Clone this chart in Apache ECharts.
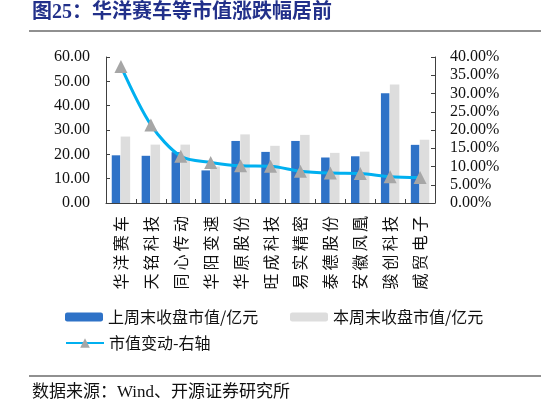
<!DOCTYPE html>
<html>
<head>
<meta charset="utf-8">
<script src="https://cdn.jsdelivr.net/npm/echarts@6/dist/echarts.min.js"></script>
<style>
  html, body { margin: 0; padding: 0; background: #fff; }
  #chart { width: 546px; height: 405px; }
</style>
</head>
<body>
<div id="chart"></div>
<script>
// 数据
const categories = ['华洋赛车', '天铭科技', '同心传动', '华阳变速', '华原股份', '旺成科技', '易实精密', '泰德股份', '安徽凤凰', '骏创科技', '威贸电子']
const lastWeekCap = [19.6, 19.4, 20.9, 13.4, 25.5, 21.0, 25.5, 18.7, 19.2, 45.1, 23.9]
const thisWeekCap = [27.3, 24.0, 24.0, 15.0, 28.2, 23.5, 28.0, 20.6, 21.1, 48.7, 26.0]
const capChangePct = [37.4, 21.4, 12.8, 11.1, 10.2, 10.1, 8.7, 8.2, 8.1, 7.2, 7.0]

const seriesNames = ['上周末收盘市值/亿元', '本周末收盘市值/亿元', '市值变动-右轴']

const serif = '"Liberation Serif", "Noto Sans CJK SC"'
const cjk = '"Noto Sans CJK SC", "Liberation Serif"'
const axisColor = '#404040'

const chart = echarts.init(document.getElementById('chart'), null, { renderer: 'canvas' })

const legendText = { fontSize: 16, fontFamily: cjk, color: '#111', lineHeight: 18 }

chart.setOption({
  animation: false,
  backgroundColor: '#fff',
  grid: { left: 106, right: 111, top: 57, bottom: 202 },
  legend: [
    { data: [seriesNames[0]], left: 65, top: 308, padding: 0, itemWidth: 38, itemHeight: 9, itemGap: 5, textStyle: legendText },
    { data: [seriesNames[1]], left: 290, top: 308, padding: 0, itemWidth: 38, itemHeight: 9, textStyle: legendText },
    { data: [seriesNames[2]], left: 65, top: 334, padding: 0, itemWidth: 38, itemHeight: 12, textStyle: legendText }
  ],
  xAxis: {
    type: 'category',
    data: categories,
    axisLine: { lineStyle: { color: axisColor, width: 1 } },
    axisTick: { show: true, inside: true, length: 4, lineStyle: { color: axisColor } },
    axisLabel: {
      interval: 0,
      rotate: 90,
      margin: 13,
      fontSize: 16,
      fontFamily: cjk,
      color: '#111',
      // 字间略加空隙
      formatter: v => v.split('').join('\u2009')
    }
  },
  yAxis: [
    {
      type: 'value', min: 0, max: 60, interval: 10,
      splitLine: { show: false },
      axisLine: { show: true, lineStyle: { color: axisColor } },
      axisTick: { show: true, inside: true, length: 4, lineStyle: { color: axisColor } },
      axisLabel: { margin: 16, fontSize: 16, fontFamily: serif, color: '#111', formatter: v => v.toFixed(2) }
    },
    {
      type: 'value', min: 0, max: 40, interval: 5,
      splitLine: { show: false },
      axisLine: { show: true, lineStyle: { color: axisColor } },
      axisTick: { show: true, inside: true, length: 4, lineStyle: { color: axisColor } },
      axisLabel: { margin: 15, fontSize: 16, fontFamily: serif, color: '#111', formatter: v => v.toFixed(2) + '%' }
    }
  ],
  series: [
    {
      name: seriesNames[0], type: 'bar', data: lastWeekCap,
      barWidth: 8.5, barGap: '5%',
      itemStyle: { color: '#2e72c7' }
    },
    {
      name: seriesNames[1], type: 'bar', data: thisWeekCap,
      barWidth: 9.5,
      itemStyle: { color: '#dddddd' }
    },
    {
      name: seriesNames[2], type: 'line', yAxisIndex: 1, data: capChangePct,
      smooth: 0.3,
      symbol: 'triangle', symbolSize: 13,
      lineStyle: { color: '#00b0f0', width: 3 },
      itemStyle: { color: '#a6a6a6', borderWidth: 0 },
      z: 5
    }
  ],
  graphic: [
    {
      type: 'text', left: 32, top: 3,
      style: { text: '图25：华洋赛车等市值涨跌幅居前', fontSize: 20, fontWeight: 'bold', fontFamily: serif, fill: '#22308a' }
    },
    { type: 'line', shape: { x1: 29, y1: 31, x2: 541, y2: 31 }, style: { stroke: '#222', lineWidth: 1.2 } },
    { type: 'line', shape: { x1: 29, y1: 376, x2: 541, y2: 376 }, style: { stroke: '#222', lineWidth: 1.2 } },
    {
      type: 'text', left: 32, top: 384,
      style: { text: '数据来源：Wind、开源证券研究所', fontSize: 17, fontFamily: serif, fill: '#111' }
    }
  ]
})
</script>
</body>
</html>
